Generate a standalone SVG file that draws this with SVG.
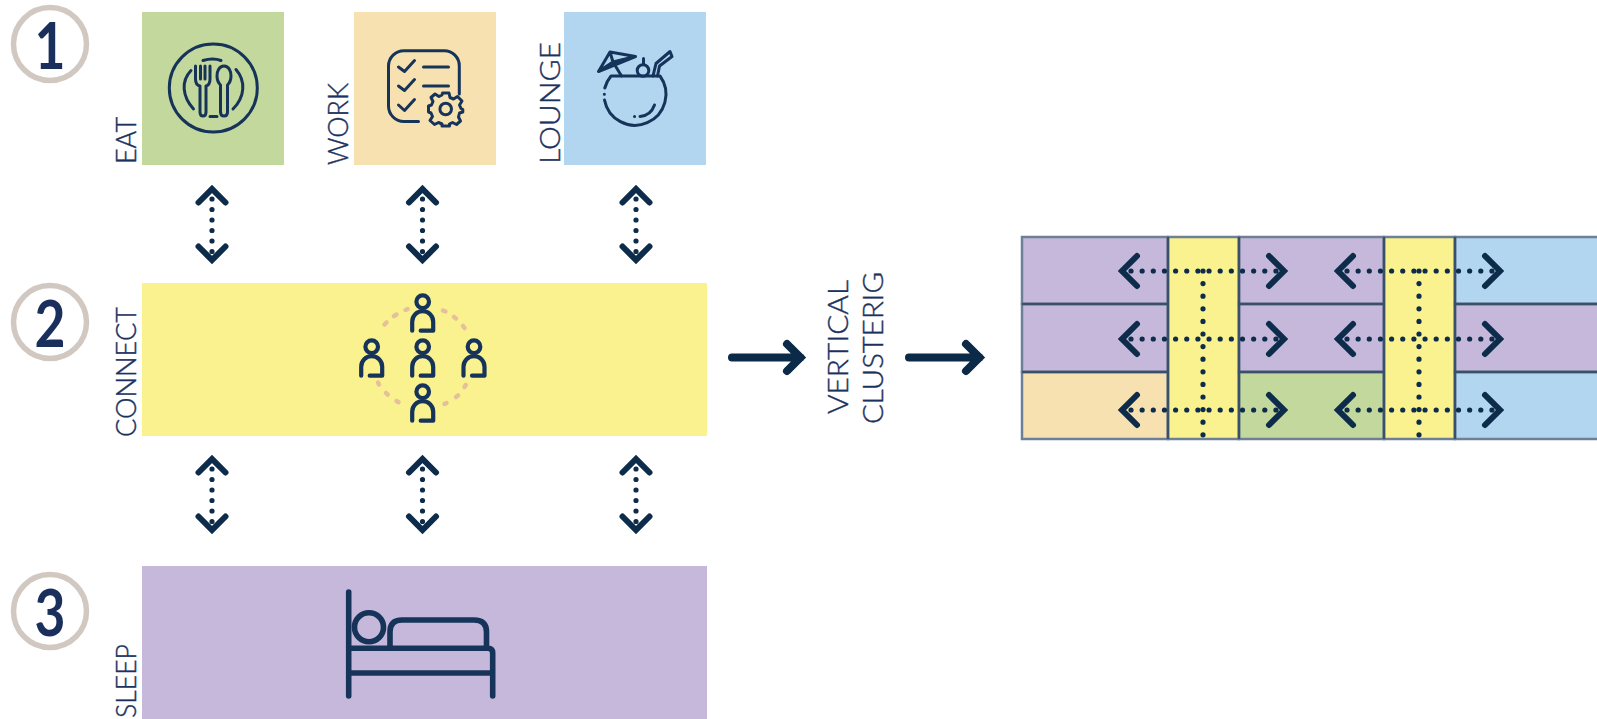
<svg xmlns="http://www.w3.org/2000/svg" width="1597" height="719" viewBox="0 0 1597 719">
<style>
.lbl{font-family:Lato,"Liberation Sans",sans-serif;font-size:28px;font-weight:300;fill:#1c325e;stroke:#1c325e;stroke-width:0.4}
.num{font-family:Lato,"Liberation Sans",sans-serif;font-size:65px;font-weight:700;fill:#1a2f5c;text-anchor:middle}
.ring{fill:none;stroke:#d2c8c2;stroke-width:5.5}
.ic{fill:none;stroke:#16345a;stroke-linecap:round;stroke-linejoin:round}
.dots{fill:none;stroke:#0d2b4a;stroke-width:5.2;stroke-linecap:round}
.hd{fill:none;stroke:#0d2b4a;stroke-width:6;stroke-linecap:round;stroke-linejoin:miter}
.big{fill:none;stroke:#0a2a47;stroke-width:8;stroke-linecap:round;stroke-linejoin:miter}
.cell{stroke:#6d8096;stroke-width:2.5}
.sep{stroke:#3a506a;stroke-width:2.5;fill:none}
</style>
<defs>
<g id="person"><circle cx="0" cy="0" r="6.300" class="ic" stroke-width="4.200"/><path d="M-10.500 29V20A10.500 10.500 0 0 1 10.500 20V29H-2" class="ic" stroke-width="4.200"/></g>
<g id="vert"><path d="M0 14V67" class="dots" stroke-dasharray="0 10.5"/><path d="M-13.500 17.500L0 4L13.500 17.500M-13.500 61.500L0 75L13.500 61.500" class="hd"/></g>
<g id="horiz"><path d="M15 0H163" class="dots" stroke-dasharray="0 11.150"/><path d="M21 -15L6 0L21 15M153 -15L168 0L153 15" class="hd"/></g>
</defs>

<g id="badge-1"><circle cx="50" cy="44" r="36.500" class="ring"/><text x="50" y="69" class="num" textLength="31" lengthAdjust="spacingAndGlyphs">1</text></g>
<g id="badge-2"><circle cx="50" cy="322" r="36.500" class="ring"/><text x="50" y="347" class="num" textLength="31" lengthAdjust="spacingAndGlyphs">2</text></g>
<g id="badge-3"><circle cx="50" cy="611" r="36.500" class="ring"/><text x="50" y="636" class="num" textLength="31" lengthAdjust="spacingAndGlyphs">3</text></g>

<g id="eat">
<rect x="142" y="12" width="142" height="153" fill="#c3d89c"/>
<text class="lbl" transform="translate(136,164) rotate(-90)" textLength="47" lengthAdjust="spacingAndGlyphs">EAT</text>
<g class="ic" stroke-width="3">
<circle cx="213.300" cy="88" r="44"/>
<path d="M193.500 109C182 96 181 81 191 70.500M236 69.500C246 81 245 97 233 109M203 60.500Q213 57.500 221 60.500M210 116.500H217"/>
<path d="M195.500 66V79Q195.500 85 200 86V112Q200 116 203 116Q206 116 206 112V86Q210 85 210 79V66M200.500 66V79M205 66V79"/>
<path d="M224 66C229 66 231 71.500 231 76C231 81 228.500 84 227.500 85V112Q227.500 116 224 116Q220.500 116 220.500 112V85C219.500 84 217 81 217 76C217 71.500 219 66 224 66Z"/>
</g>
</g>

<g id="work">
<rect x="354" y="12" width="142" height="153" fill="#f8e1b0"/>
<text class="lbl" transform="translate(348,165) rotate(-90)" textLength="82" lengthAdjust="spacingAndGlyphs">WORK</text>
<g class="ic" stroke-width="3">
<path d="M459.300 94V66A15 15 0 0 0 444 50.700H404A15.500 15.500 0 0 0 388.500 66V106A15.500 15.500 0 0 0 404 121.500H418.500"/>
<path d="M398.500 67L404.500 71.500L414.500 60.500M398.500 86L404.500 90.500L414.500 79.500M398.500 105L404.500 110.500L414.500 99.500M423.500 67H448.500M423.500 86H448.500"/>
<circle cx="445.700" cy="109" r="5.800"/>
<path d="M442.500 93H449L450 97.500L453.500 99L457.500 96.500L462 101L459.500 105L461 108.500L462.800 109.500V112L459.500 113L458.500 117L460.500 121L456.500 124.500L452.500 122.500L449.500 124V126H442V124L438.500 122.500L434.500 124.500L430 120.500L432.500 116.500L431 113L428.500 112V106L431.500 105L433 101.500L431 97.500L435 94L439 96.500L442 95Z"/>
</g>
</g>

<g id="lounge">
<rect x="564" y="12" width="142" height="153" fill="#b2d5f0"/>
<text class="lbl" transform="translate(560,164) rotate(-90)" textLength="122" lengthAdjust="spacingAndGlyphs">LOUNGE</text>
<g class="ic" stroke-width="3">
<path d="M604.500 100A31 31 0 1 0 660 76H611A31 31 0 0 0 604.800 88" transform="translate(0,0)"/>
<path d="M604.300 94.300h0.100M634.500 116.500h0.100M640 116.500C647 116 652 112 654.500 105"/>
<path d="M598.500 71.500L610 52L635.500 56.500ZM610 52L613 62L598.500 71.500M613 62L635.500 56.500M613 62L621.500 76"/>
<circle cx="643" cy="70.500" r="5.800"/>
<path d="M643.500 58.500V64.500M653 76L656 63.500L670 51.500L672 56.500L659.500 66L657.500 76"/>
</g>
</g>

<g id="connect">
<rect x="142" y="283" width="565" height="153" fill="#f9f28f"/>
<text class="lbl" transform="translate(136,437) rotate(-90)" textLength="130" lengthAdjust="spacingAndGlyphs">CONNECT</text>
<path d="M384.500 324.500l2 -2M394 316l2.500 -1.500M405.500 310l2 -0.800M443 310.500l2.500 1M454 317l2 1.500M463 326l1.500 2M378 382.500l1 2M386 393l1.700 1.700M396.500 401l2 1.200M444.500 404l2 -1M456 397l2 -1.500M464.500 387l1.300 -2" fill="none" stroke="#e5c09a" stroke-width="4.500" stroke-linecap="round"/>
<use href="#person" x="422.700" y="301.700"/>
<use href="#person" x="371.700" y="346.700"/>
<use href="#person" x="422.700" y="346.700"/>
<use href="#person" x="474" y="346.700"/>
<use href="#person" x="422.700" y="391.700"/>
</g>

<g id="sleep">
<rect x="142" y="566" width="565" height="153" fill="#c6b8da"/>
<text class="lbl" transform="translate(136,718) rotate(-90)" textLength="74" lengthAdjust="spacingAndGlyphs">SLEEP</text>
<g class="ic" stroke-width="5.600">
<path d="M348.700 592V696M349 648.300H488Q492.700 648.300 492.700 653V696M349 673H492"/>
<circle cx="369" cy="627.300" r="14.500"/>
<path d="M390 648V632Q390 620 402 620H474Q486.500 620 486.500 632V648"/>
</g>
</g>

<g id="cluster">
<rect class="cell" x="1022" y="237" width="146" height="67" fill="#c6b8da"/>
<rect class="cell" x="1022" y="304" width="146" height="68" fill="#c6b8da"/>
<rect class="cell" x="1022" y="372" width="146" height="67" fill="#f8e1b0"/>
<rect class="cell" x="1168" y="237" width="71" height="202" fill="#f9f28f"/>
<rect class="cell" x="1239" y="237" width="145" height="67" fill="#c6b8da"/>
<rect class="cell" x="1239" y="304" width="145" height="68" fill="#c6b8da"/>
<rect class="cell" x="1239" y="372" width="145" height="67" fill="#c3d89c"/>
<rect class="cell" x="1384" y="237" width="71" height="202" fill="#f9f28f"/>
<rect class="cell" x="1455" y="237" width="150" height="67" fill="#b2d5f0"/>
<rect class="cell" x="1455" y="304" width="150" height="68" fill="#c6b8da"/>
<rect class="cell" x="1455" y="372" width="150" height="67" fill="#b2d5f0"/>
<path class="sep" d="M1022 304H1168M1239 304H1384M1455 304H1597M1022 372H1168M1239 372H1384M1455 372H1597M1168 237V439M1239 237V439M1384 237V439M1455 237V439"/>
</g>

<g id="labels">
<text class="lbl" transform="translate(848,414) rotate(-90)" textLength="134" lengthAdjust="spacingAndGlyphs">VERTICAL</text>
<text class="lbl" transform="translate(883,424) rotate(-90)" textLength="152" lengthAdjust="spacingAndGlyphs">CLUSTERIG</text>
</g>

<g id="connectors">
<use href="#vert" x="212" y="185"/>
<use href="#vert" x="422.500" y="185"/>
<use href="#vert" x="636" y="185"/>
<use href="#vert" x="212" y="455"/>
<use href="#vert" x="422.500" y="455"/>
<use href="#vert" x="636" y="455"/>
<path class="big" d="M732 357.500H800.500M787 344L800.500 357.500L787 371"/>
<path class="big" d="M909 357.500H979.500M966 344L979.500 357.500L966 371"/>
<path class="dots" d="M1203 271V439M1419 271V439" stroke-dasharray="0 12.600"/>
<use href="#horiz" x="1116" y="271"/>
<use href="#horiz" x="1332" y="271"/>
<use href="#horiz" x="1116" y="339"/>
<use href="#horiz" x="1332" y="339"/>
<use href="#horiz" x="1116" y="410"/>
<use href="#horiz" x="1332" y="410"/>
</g>
</svg>
